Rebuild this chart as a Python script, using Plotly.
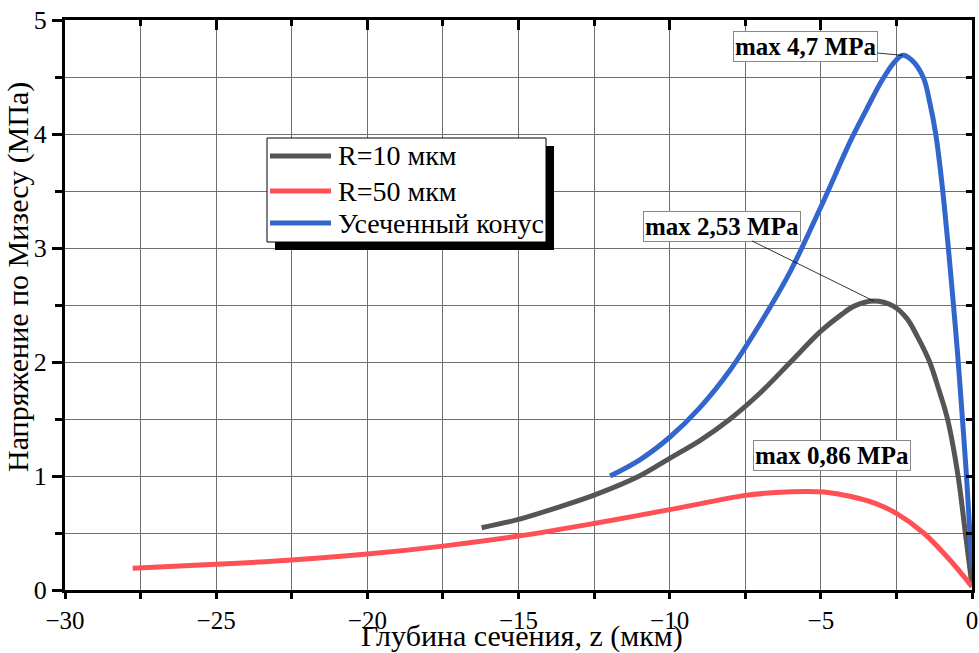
import plotly.graph_objects as go

# ---- data ----
r10_x = [-16.22, -15.0, -13.75, -12.5, -11.0, -10.0, -9.0, -8.0, -7.0, -6.0, -5.0, -4.3, -3.9, -3.25, -2.6, -2.15, -1.8, -1.4, -1.1, -0.81, -0.46, -0.22, 0.0]
r10_y = [0.546, 0.619, 0.72, 0.832, 1.0, 1.155, 1.31, 1.5, 1.73, 2.0, 2.27, 2.42, 2.49, 2.535, 2.49, 2.38, 2.22, 2.0, 1.76, 1.5, 1.0, 0.5, 0.04]

r50_x = [-27.76, -25.0, -22.5, -20.0, -17.5, -15.0, -12.5, -10.0, -7.5, -6.5, -5.5, -4.9, -4.0, -3.2, -2.5, -1.6, -0.73, 0.0]
r50_y = [0.19, 0.225, 0.263, 0.315, 0.385, 0.473, 0.584, 0.705, 0.83, 0.855, 0.865, 0.86, 0.82, 0.76, 0.672, 0.5, 0.263, 0.03]

cone_x = [-11.97, -11.0, -10.0, -9.0, -8.0, -7.0, -6.0, -5.0, -4.0, -3.5, -3.0, -2.6, -2.3, -2.0, -1.6, -1.4, -1.2, -1.0, -0.8, -0.62, -0.47, -0.33, -0.19, -0.07, 0.0]
cone_y = [1.0, 1.14, 1.34, 1.60, 1.93, 2.34, 2.80, 3.36, 3.95, 4.21, 4.46, 4.62, 4.69, 4.65, 4.49, 4.28, 4.0, 3.58, 3.05, 2.52, 2.05, 1.55, 1.03, 0.5, 0.2]

series_names = ["R=10 мкм", "R=50 мкм", "Усеченный конус"]
series_colors = ["#555555", "#FF5055", "#3366CC"]

x_tickvals = [-30, -25, -20, -15, -10, -5, 0]
y_tickvals = [0, 1, 2, 3, 4, 5]

x_title = "Глубина сечения, z (мкм)"
y_title = "Напряжение по Мизесу (МПа)"
peak_labels = ["max 4,7 MPa", "max 2,53 MPa", "max 0,86 MPa"]

FONT = "Times New Roman, Liberation Serif, serif"

# plot-area geometry (pixels) used for paper-coordinate placement of legend box and titles
W, H = 979, 653
ML, MR, MT, MB = 65, 7, 20, 63
PW, PH = W - ML - MR, H - MT - MB


def px(xp):
    return (xp - ML) / PW


def py(yp):
    return (H - MB - yp) / PH


fig = go.Figure()
for xs, ys, name, col in zip([r10_x, r50_x, cone_x], [r10_y, r50_y, cone_y], series_names, series_colors):
    fig.add_trace(go.Scatter(x=xs, y=ys, mode="lines", name=name, showlegend=False,
                             line=dict(color=col, width=5, shape="spline", smoothing=0.9)))

grid_col = "#707070"
fig.update_layout(
    width=W, height=H,
    margin=dict(l=ML, r=MR, t=MT, b=MB),
    paper_bgcolor="white", plot_bgcolor="white",
    font=dict(family=FONT, size=26, color="black"),
    xaxis=dict(range=[-30, 0], tickvals=x_tickvals, ticks="outside", ticklen=6, tickwidth=3,
               tickcolor="black", showline=True, linewidth=3, linecolor="black",
               showgrid=True, gridcolor=grid_col, gridwidth=1, zeroline=False, automargin=False,
               minor=dict(dtick=2.5, tick0=0, ticks="outside", ticklen=6, tickwidth=3, tickcolor="black",
                          showgrid=True, gridcolor=grid_col, gridwidth=1),
               tickfont=dict(size=25, family=FONT)),
    yaxis=dict(range=[0, 5], tickvals=y_tickvals, ticks="outside", ticklen=10, tickwidth=3,
               tickcolor="black", showline=True, linewidth=3, linecolor="black",
               showgrid=True, gridcolor=grid_col, gridwidth=1, zeroline=False, automargin=False,
               minor=dict(dtick=0.5, tick0=0, ticks="outside", ticklen=7, tickwidth=3, tickcolor="black",
                          showgrid=True, gridcolor=grid_col, gridwidth=1),
               tickfont=dict(size=26, family=FONT)),
    xaxis2=dict(range=[-30, 0], overlaying="x", side="top", anchor="y", tickvals=x_tickvals,
                ticks="inside", ticklen=10, tickwidth=3, tickcolor="black", showticklabels=False,
                showline=True, linewidth=3, linecolor="black", showgrid=False, zeroline=False,
                minor=dict(dtick=2.5, tick0=0, ticks="inside", ticklen=6, tickwidth=3, tickcolor="black", showgrid=False)),
    yaxis2=dict(range=[0, 5], overlaying="y", side="right", anchor="x", dtick=0.5, tick0=0,
                ticks="inside", ticklen=6, tickwidth=3, tickcolor="black", showticklabels=False,
                showline=True, linewidth=3, linecolor="black", showgrid=False, zeroline=False),
    showlegend=False,
)

# invisible helper trace so the mirrored axes are drawn
fig.add_trace(go.Scatter(x=[None], y=[None], xaxis="x2", yaxis="y2", showlegend=False, hoverinfo="skip"))

# ---- axis titles ----
fig.add_annotation(xref="paper", yref="paper", x=px(522), y=py(636), text=x_title, showarrow=False,
                   xanchor="center", yanchor="middle", font=dict(family=FONT, size=30, color="black"))
fig.add_annotation(xref="paper", yref="paper", x=px(18), y=py(277), text=y_title, showarrow=False,
                   textangle=-90, xanchor="center", yanchor="middle",
                   font=dict(family=FONT, size=30, color="black"))

# ---- legend box (drawn by hand to match the reference's long line samples and shadow) ----
LX0, LX1, LY0, LY1 = 267, 546, 138, 242
fig.add_shape(type="rect", xref="paper", yref="paper",
              x0=px(LX0 + 8), x1=px(LX1 + 8), y0=py(LY1 + 8), y1=py(LY0 + 8),
              fillcolor="black", line=dict(width=0), layer="above")
fig.add_shape(type="rect", xref="paper", yref="paper",
              x0=px(LX0), x1=px(LX1), y0=py(LY1), y1=py(LY0),
              fillcolor="white", line=dict(color="black", width=1), layer="above")
row_y = [156, 191, 223]
for name, col, ry in zip(series_names, series_colors, row_y):
    fig.add_shape(type="line", xref="paper", yref="paper",
                  x0=px(270), x1=px(331), y0=py(ry), y1=py(ry),
                  line=dict(color=col, width=5), layer="above")
    fig.add_annotation(xref="paper", yref="paper", x=px(336), y=py(ry), text=name,
                       showarrow=False, xanchor="left", yanchor="middle",
                       font=dict(family=FONT, size=28, color="black"))

# ---- peak labels ----
ann_font = dict(family=FONT, size=25, color="black", weight="bold")
fig.add_annotation(x=-2.3, y=4.69, text=peak_labels[0], showarrow=True, arrowhead=0, arrowwidth=0.8,
                   arrowcolor="black", ax=-97, ay=-9, bgcolor="white", bordercolor="#888888",
                   borderwidth=1, borderpad=1, font=ann_font)
fig.add_annotation(x=-3.25, y=2.535, text=peak_labels[1], showarrow=True, arrowhead=0, arrowwidth=0.8,
                   arrowcolor="black", ax=-152, ay=-75, bgcolor="white", bordercolor="#888888",
                   borderwidth=1, borderpad=1, font=ann_font)
fig.add_annotation(x=-4.63, y=1.18, text=peak_labels[2], showarrow=False, bgcolor="white",
                   bordercolor="#888888", borderwidth=1, borderpad=1, font=ann_font)

fig.write_html("out.html")
